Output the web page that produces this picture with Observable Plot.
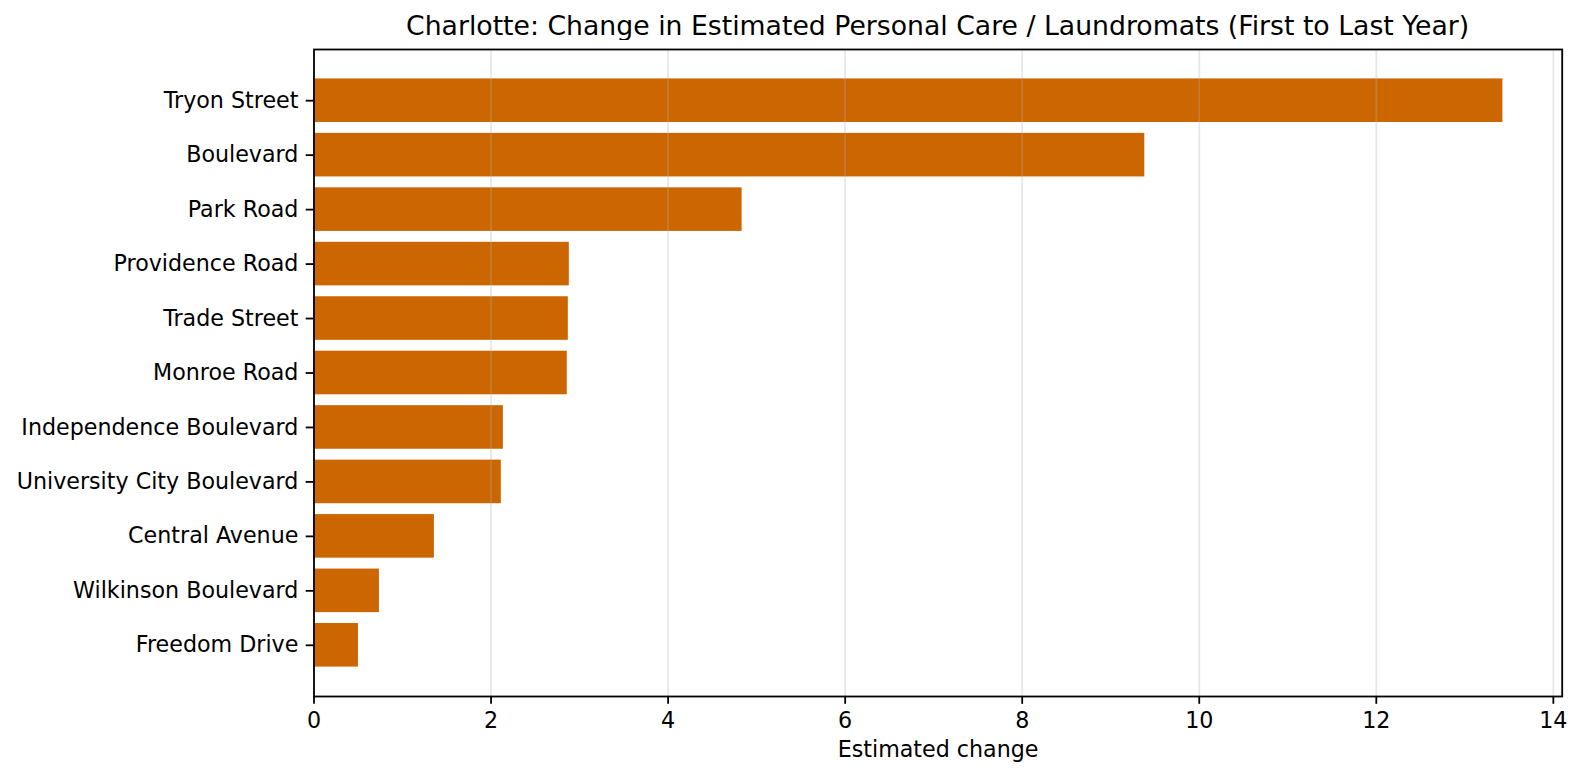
<!DOCTYPE html>
<html>
<head>
<meta charset="utf-8">
<script src="https://cdn.jsdelivr.net/npm/d3@7"></script>
<script src="https://cdn.jsdelivr.net/npm/@observablehq/plot@0.6"></script>
<style>
  html, body { margin: 0; padding: 0; background: white; }
  #wrap { position: relative; width: 1584px; height: 776px; background: white; font-family: "DejaVu Sans", sans-serif; }
  #title { position: absolute; top: 13.4px; left: 313.5px; width: 1248.2px; text-align: center;
           font-size: 26.7px; line-height: 26.7px; color: black; white-space: nowrap; }
  #chart { position: absolute; top: 40px; left: 0; }
</style>
</head>
<body>
<div id="wrap">
  <div id="title">Charlotte: Change in Estimated Personal Care / Laundromats (First to Last Year)</div>
  <div id="chart"></div>
</div>
<script>
const streets = [
  "Tryon Street",
  "Boulevard",
  "Park Road",
  "Providence Road",
  "Trade Street",
  "Monroe Road",
  "Independence Boulevard",
  "University City Boulevard",
  "Central Avenue",
  "Wilkinson Boulevard",
  "Freedom Drive"
];
const changes = [13.43, 9.385, 4.836, 2.884, 2.873, 2.861, 2.139, 2.116, 1.36, 0.739, 0.502];
const xTicks = [0, 2, 4, 6, 8, 10, 12, 14];
const xLabel = "Estimated change";

const data = streets.map((s, i) => ({street: s, change: changes[i]}));

const chart = Plot.plot({
  width: 1584,
  height: 736,
  marginTop: 9,
  marginBottom: 80,
  marginLeft: 313.5,
  marginRight: 22.3,
  style: {fontFamily: "DejaVu Sans", fontSize: "22.2px", color: "black", background: "white"},
  x: {domain: [0, 14.1], ticks: xTicks},
  y: {domain: streets, paddingInner: 0.2, paddingOuter: 0.54, round: false},
  marks: [
    Plot.barX(data, {y: "street", x: "change", fill: "#cc6600"}),
    Plot.gridX(xTicks, {stroke: "#b0b0b0", strokeOpacity: 0.3, strokeWidth: 1.8}),
    Plot.axisX({ticks: xTicks, tickSize: 7.8, tickPadding: 7.8, fontSize: 22.2, strokeWidth: 1.8, label: null, tickFormat: d => String(d)}),
    Plot.axisY({tickSize: 7.8, tickPadding: 7.8, fontSize: 22.2, strokeWidth: 1.8, label: null}),
    Plot.text([xLabel], {frameAnchor: "bottom", dy: 45, lineAnchor: "top", fontSize: 22.2, fill: "black"}),
    Plot.frame({stroke: "black", strokeWidth: 1.8})
  ]
});
document.getElementById("chart").appendChild(chart);
</script>
</body>
</html>
